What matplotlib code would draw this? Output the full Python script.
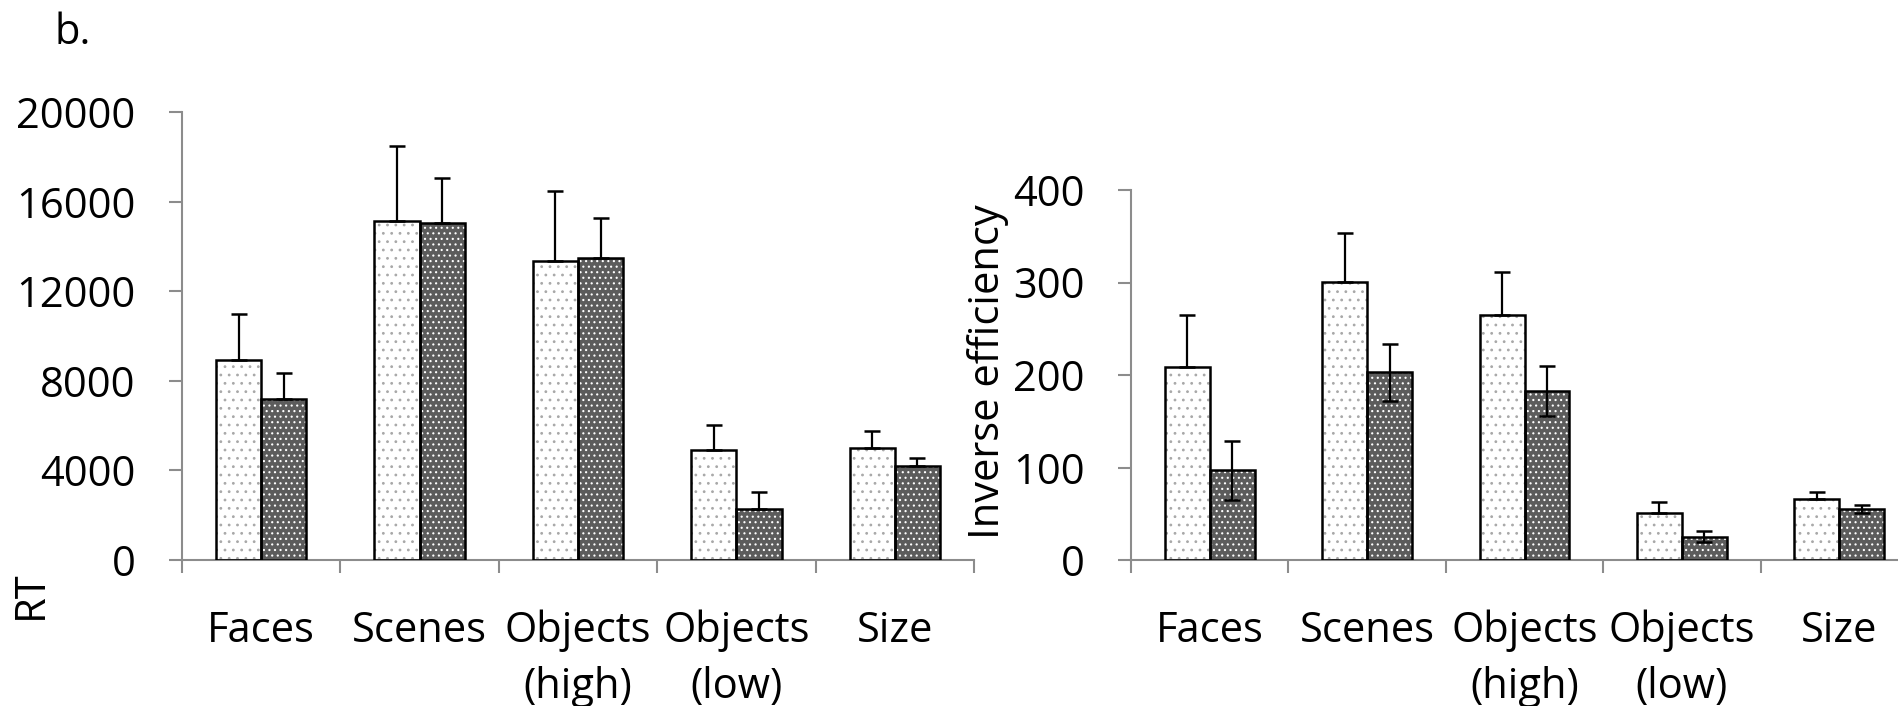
import matplotlib
matplotlib.use("Agg")
import matplotlib.pyplot as plt
import numpy as np

# Data
categories = ["Faces", "Scenes", "Objects\n(high)", "Objects\n(low)", "Size"]

rt_light = [8950, 15130, 13370, 4900, 5020]
rt_light_err = [2050, 3360, 3100, 1120, 750]
rt_dark = [7170, 15030, 13480, 2270, 4180]
rt_dark_err = [1190, 2030, 1800, 770, 360]

ie_light = [209, 301, 265, 51, 66]
ie_light_err = [56, 52, 46, 11.5, 8]
ie_dark = [97, 203, 183, 25, 55]
ie_dark_err = [32, 31, 27, 6, 4.5]

rt_ticks = [0, 4000, 8000, 12000, 16000, 20000]
ie_ticks = [0, 100, 200, 300, 400]

plt.rcParams['font.family'] = ['Open Sans', 'DejaVu Sans']
plt.rcParams['hatch.linewidth'] = 0.8

AXIS_GREY = '#8c8c8c'
DARK_FILL = '#5c5c5c'
BAR_W = 0.285
FS = 30


def draw_bars(ax, light, light_err, dark, dark_err, dark_both):
    x = np.arange(len(categories))
    xl = x - BAR_W / 2
    xd = x + BAR_W / 2
    # fill with dotted pattern (hatch colour taken from edgecolor)
    ax.bar(xl, light, BAR_W, color='white', edgecolor='#a8a8a8', hatch='..', linewidth=0, zorder=2)
    ax.bar(xd, dark, BAR_W, color=DARK_FILL, edgecolor='white', hatch='...', linewidth=0, zorder=2)
    # black outlines on top
    ax.bar(xl, light, BAR_W, fill=False, edgecolor='black', linewidth=1.8, zorder=3)
    ax.bar(xd, dark, BAR_W, fill=False, edgecolor='black', linewidth=1.8, zorder=3)

    ekw = dict(fmt='none', ecolor='black', elinewidth=1.6, capsize=6, capthick=1.8, zorder=4)
    ax.errorbar(xl, light, yerr=[np.zeros(len(light)), light_err], **ekw)
    if dark_both:
        ax.errorbar(xd, dark, yerr=dark_err, **ekw)
    else:
        ax.errorbar(xd, dark, yerr=[np.zeros(len(dark)), dark_err], **ekw)


def style_axis(ax, ticks):
    ax.set_xlim(-0.5, len(categories) - 0.5)
    ax.set_ylim(ticks[0], ticks[-1])
    ax.set_yticks(ticks)
    ax.set_yticklabels([str(t) for t in ticks], fontsize=FS)
    ax.set_xticks(np.arange(len(categories)))
    ax.set_xticklabels(categories, fontsize=FS)
    for lab in ax.get_xticklabels():
        lab.set_linespacing(1.41)
    ax.set_xticks(np.arange(len(categories) + 1) - 0.5, minor=True)
    ax.tick_params(axis='x', which='major', length=0, pad=36)
    ax.tick_params(axis='x', which='minor', length=9.5, width=1.5, color=AXIS_GREY, direction='out')
    ax.tick_params(axis='y', which='major', length=9.5, width=1.5, color=AXIS_GREY, direction='out', pad=24)
    for s in ['top', 'right']:
        ax.spines[s].set_visible(False)
    for s in ['left', 'bottom']:
        ax.spines[s].set_color(AXIS_GREY)
        ax.spines[s].set_linewidth(1.5)
    ax.patch.set_alpha(0)


fig = plt.figure(figsize=(18.98, 7.06), dpi=100)
W, H = 1898.0, 706.0

ax1 = fig.add_axes([182 / W, (H - 560) / H, 792 / W, 448 / H])
draw_bars(ax1, rt_light, rt_light_err, rt_dark, rt_dark_err, dark_both=False)
style_axis(ax1, rt_ticks)

ax2 = fig.add_axes([1131 / W, (H - 560) / H, 787 / W, 370 / H])
draw_bars(ax2, ie_light, ie_light_err, ie_dark, ie_dark_err, dark_both=True)
style_axis(ax2, ie_ticks)

fig.text(31 / W, 1 - 595 / H, "RT", rotation=90, ha='center', va='center', fontsize=FS)
fig.text(988 / W, 1 - 372 / H, "Inverse efficiency", rotation=90, ha='center', va='center', fontsize=FS)
fig.text(55 / W, 1 - 33 / H, "b.", ha='left', va='center', fontsize=FS)

fig.savefig("out.png", dpi=100)
